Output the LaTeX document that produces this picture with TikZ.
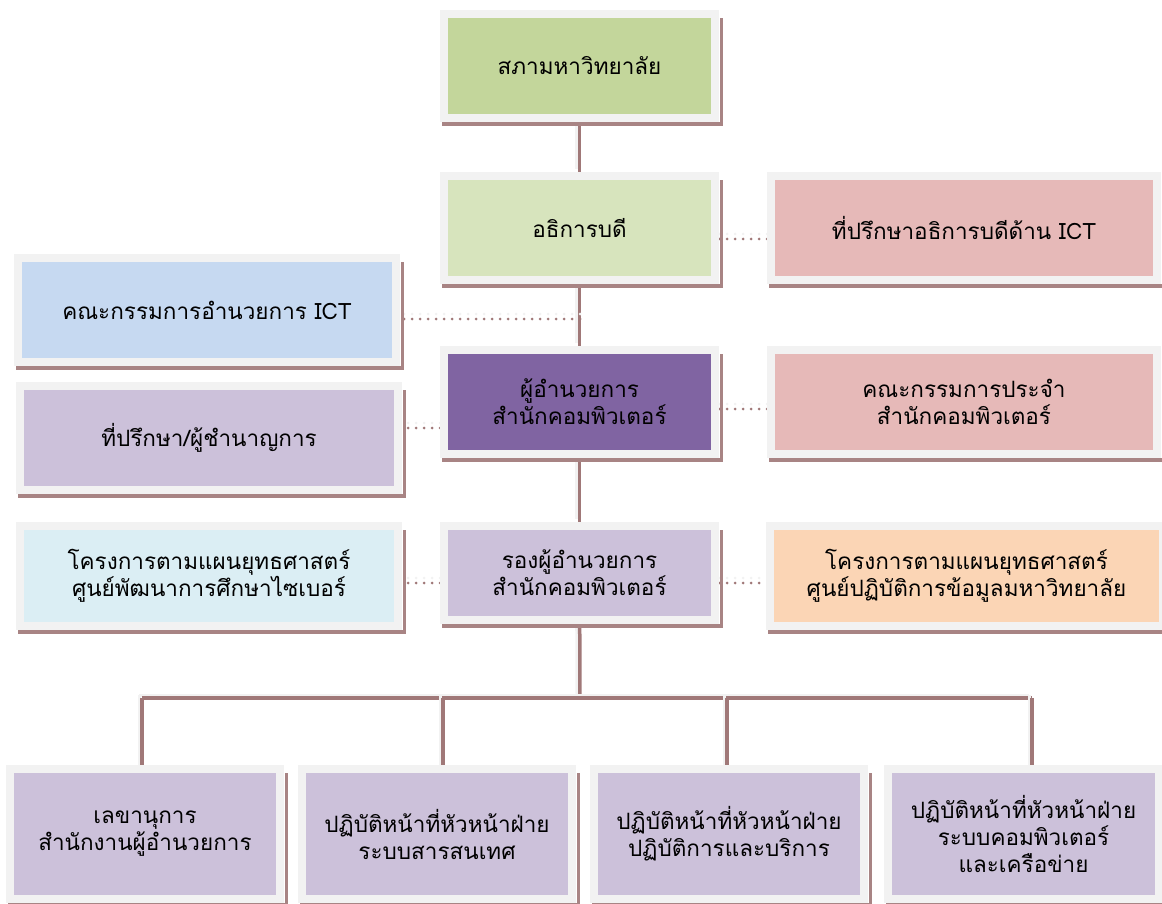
\documentclass[tikz,border=0pt]{standalone}
\usepackage{fontspec}
\newfontfamily\thaifont[Script=Thai]{Loma}
\usetikzlibrary{backgrounds}
\definecolor{framegray}{HTML}{F2F2F2}
\definecolor{shadcol}{HTML}{A88484}
\definecolor{conncol}{HTML}{A07878}
\definecolor{cSabha}{HTML}{C3D69B}
\definecolor{cPres}{HTML}{D7E4BD}
\definecolor{cPink}{HTML}{E6B9B8}
\definecolor{cBlue}{HTML}{C6D9F1}
\definecolor{cLav}{HTML}{CCC1DA}
\definecolor{cPurple}{HTML}{8064A2}
\definecolor{cLtBlue}{HTML}{DBEEF4}
\definecolor{cPeach}{HTML}{FBD5B5}
\tikzset{
  orgbox/.style={draw=framegray, line width=8pt, inner sep=0pt, align=center,
    font=\thaifont\fontsize{22.5}{27}\selectfont, text=black},
  shad/.style={draw=shadcol, line width=3.5pt},
  conn/.style={draw=conncol, line width=3.5pt,
    preaction={draw=framegray, line width=3pt, transform canvas={xshift=-3pt,yshift=3pt}}},
  dotl/.style={draw=conncol, line width=3pt, line cap=round, dash pattern=on 0pt off 8pt,
    preaction={draw=framegray, line width=3pt, line cap=round, dash pattern=on 0pt off 8pt, transform canvas={yshift=5pt}}},
}
\newcommand\boxshadow[1]{%
  \draw[shad] ([xshift=2pt,yshift=-2pt]#1.south west) -- ([xshift=2.5pt,yshift=-2pt]#1.south east)
    -- ([xshift=2.5pt,yshift=-8pt]#1.north east);}
\begin{document}
\begin{tikzpicture}[x=1pt,y=-1pt]
\useasboundingbox (0,0) rectangle (1162,904);
% boxes
\node[orgbox, fill=cSabha, minimum width=271pt, minimum height=104pt] (sabha) at (579.5,66) {สภามหาวิทยาลัย};
\node[orgbox, fill=cPres, minimum width=271pt, minimum height=104pt] (pres) at (579.5,228) {อธิการบดี};
\node[orgbox, fill=cPink, minimum width=386pt, minimum height=104pt] (ictadv) at (964,228) {ที่ปรึกษาอธิการบดีด้าน ICT};
\node[orgbox, fill=cBlue, minimum width=378pt, minimum height=104pt] (ictcomm) at (207,310) {คณะกรรมการอำนวยการ ICT};
\node[orgbox, fill=cLav, minimum width=378pt, minimum height=104pt] (advisor) at (209,438) {ที่ปรึกษา/ผู้ชำนาญการ};
\node[orgbox, fill=cPurple, minimum width=271pt, minimum height=104pt] (director) at (579.5,402) {ผู้อำนวยการ\\สำนักคอมพิวเตอร์};
\node[orgbox, fill=cPink, minimum width=386pt, minimum height=104pt] (board) at (964,402) {คณะกรรมการประจำ\\สำนักคอมพิวเตอร์};
\node[orgbox, fill=cLtBlue, minimum width=378pt, minimum height=100pt] (cyber) at (209,576) {โครงการตามแผนยุทธศาสตร์\\ศูนย์พัฒนาการศึกษาไซเบอร์};
\node[orgbox, fill=cLav, minimum width=271pt, minimum height=94pt] (rong) at (579.5,573) {รองผู้อำนวยการ\\สำนักคอมพิวเตอร์};
\node[orgbox, fill=cPeach, minimum width=393pt, minimum height=100pt] (datactr) at (966.5,576) {โครงการตามแผนยุทธศาสตร์\\ศูนย์ปฏิบัติการข้อมูลมหาวิทยาลัย};
\node[orgbox, fill=cLav, minimum width=270pt, minimum height=130pt] (b1) at (145,834) {เลขานุการ\\สำนักงานผู้อำนวยการ};
\node[orgbox, fill=cLav, minimum width=270pt, minimum height=130pt] (b2) at (437,834) {ปฏิบัติหน้าที่หัวหน้าฝ่าย\\ระบบสารสนเทศ};
\node[orgbox, fill=cLav, minimum width=270pt, minimum height=130pt] (b3) at (729,834) {ปฏิบัติหน้าที่หัวหน้าฝ่าย\\ปฏิบัติการและบริการ};
\node[orgbox, fill=cLav, minimum width=271pt, minimum height=130pt] (b4) at (1023.5,834) {ปฏิบัติหน้าที่หัวหน้าฝ่าย\\ระบบคอมพิวเตอร์\\และเครือข่าย};
% shadows
\foreach \n in {sabha,pres,ictadv,ictcomm,advisor,director,board,cyber,rong,datactr,b1,b2,b3,b4}{\boxshadow{\n}}
% connectors
\coordinate (busC) at (580,698);
\coordinate (d1) at (142,698);
\coordinate (d2) at (443,698);
\coordinate (d3) at (727,698);
\coordinate (d4) at (1032,698);
\coordinate (j1) at (580,319);
\coordinate (y1) at (0,239);
\coordinate (y2) at (0,428);
\coordinate (y3) at (0,409);
\coordinate (y4) at (0,583);
\begin{scope}[on background layer]
\draw[conn] (sabha) -- (pres);
\draw[conn] (pres) -- (director);
\draw[conn] (director) -- (rong);
\draw[conn] (rong) -- (busC);
\draw[conn] (d1) -- (d4);
\draw[conn] (d1) -- (d1 |- b1.center);
\draw[conn] (d2) -- (d2 |- b2.center);
\draw[conn] (d3) -- (d3 |- b3.center);
\draw[conn] (d4) -- (d4 |- b4.center);
\draw[dotl] (pres.east |- y1) -- (ictadv.west |- y1);
\draw[dotl] (j1) -- (ictcomm.east |- j1);
\draw[dotl] (director.west |- y2) -- (advisor.east |- y2);
\draw[dotl] (director.east |- y3) -- (board.west |- y3);
\draw[dotl] (rong.west |- y4) -- (cyber.east |- y4);
\draw[dotl] (rong.east |- y4) -- (datactr.west |- y4);
\end{scope}
\end{tikzpicture}
\end{document}
